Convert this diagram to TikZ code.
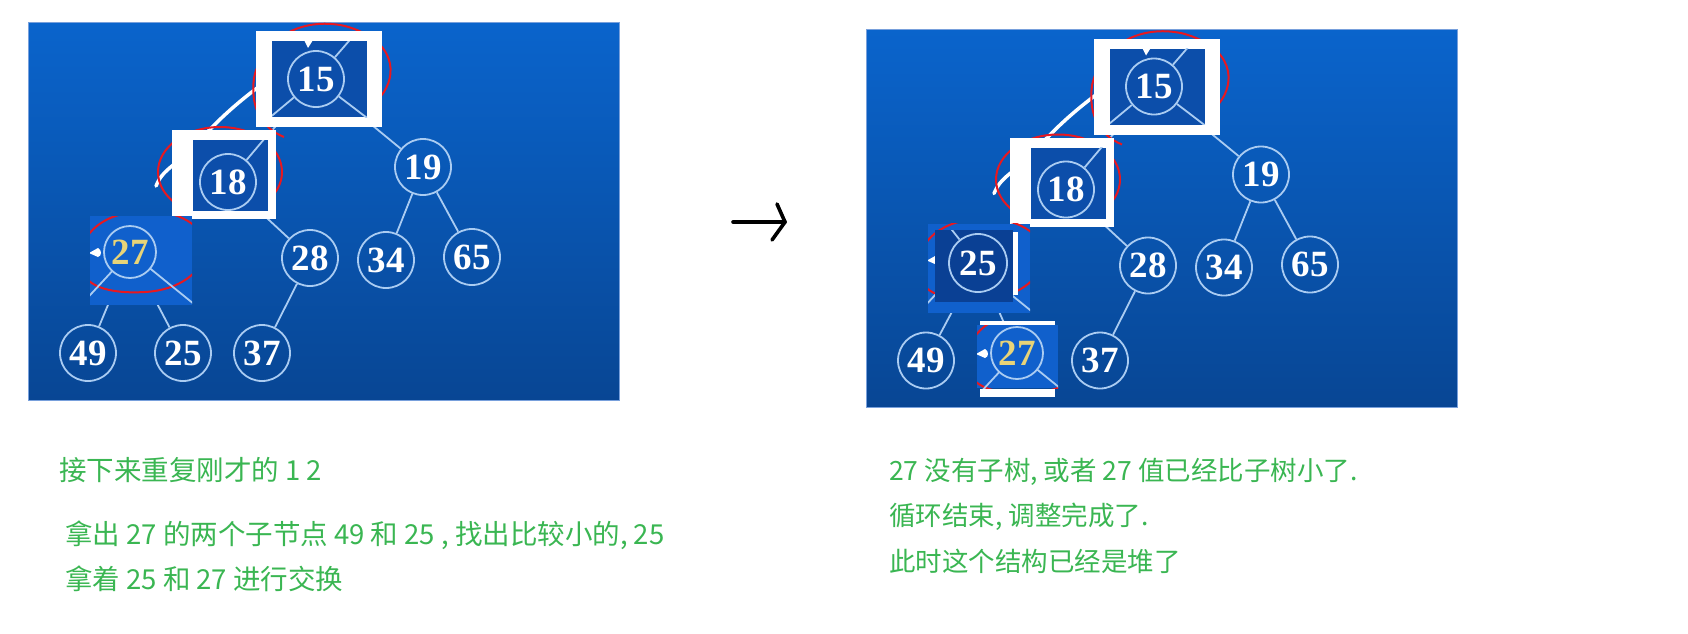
\documentclass[tikz,border=0pt]{standalone}
\usepackage{fontspec}
\setmainfont{Liberation Serif}
\newfontfamily\cjkfont{Noto Sans CJK SC}
\pgfdeclarelayer{paper}
\pgfdeclarelayer{bglayer}
\pgfdeclarelayer{edgelayer}
\pgfdeclarelayer{framelayer}
\pgfdeclarelayer{patchcontent}
\pgfdeclarelayer{croplayer}
\pgfsetlayers{paper,bglayer,edgelayer,framelayer,patchcontent,croplayer,main}
\definecolor{pantop}{RGB}{10,100,204}
\definecolor{panbot}{RGB}{8,70,148}
\definecolor{rimcol}{RGB}{120,160,220}
\definecolor{edgecol}{RGB}{170,204,242}
\definecolor{innerblue}{RGB}{12,78,170}
\definecolor{patchblue}{RGB}{16,96,204}
\definecolor{cropblue}{RGB}{10,64,148}
\definecolor{redline}{RGB}{232,24,32}
\definecolor{gold}{RGB}{232,212,120}
\definecolor{txtgreen}{RGB}{58,182,82}
\tikzset{
  hnode/.style={circle,draw=edgecol,line width=1.8pt,minimum size=56pt,inner sep=0pt,text=white,font={\bfseries\fontsize{37}{37}\selectfont}},
  sevennode/.style={hnode,minimum size=52pt,text=gold},
  hedge/.style={draw=edgecol,line width=1.8pt},
  redmark/.style={draw=redline,line width=2pt},
  swapline/.style={draw=white,line width=3.5pt,line cap=round},
  panelrim/.style={draw=rimcol,line width=0.8pt},
  note/.style={text=txtgreen,font={\cjkfont\fontsize{27.5}{31}\selectfont},anchor=west,inner sep=0pt},
  rnote/.style={note,font={\cjkfont\fontsize{26.5}{30}\selectfont}},
  bigarrow/.style={draw=black,line width=3.6pt,line cap=round,line join=round}
}
% marks of the pasted "27" patch, in coordinates centred on the circle
\newcommand\sevenmarks{%
  \draw[redmark] (-50,9) .. controls (-50,-20) and (-25,-40) .. (15,-41)
     .. controls (55,-42) and (80,-20) .. (75,0)
     .. controls (72,20) and (50,38) .. (15,40)
     .. controls (-20,42) and (-50,35) .. (-50,9);
  \draw[hedge] (-17.7,19) -- (-50,54);
  \draw[hedge] (20,16.4) -- (75,61);
  \fill[white] (-41,1) -- (-32,-4) .. controls (-28,-2) and (-28,4) .. (-32,5) -- cycle;
}
\newcommand\heapcommon[1]{%
  \begin{pgfonlayer}{bglayer}
    \shade[top color=pantop,bottom color=panbot] (28,22) rectangle (619,400);
    \draw[panelrim] (28,22) rectangle (619,400);
  \end{pgfonlayer}
  \node[hnode] (#1n15) at (316,79) {15};
  \node[hnode] (#1n18) at (228,182) {18};
  \node[hnode] (#1n19) at (423,167) {19};
  \node[hnode] (#1n28) at (310,258) {28};
  \node[hnode] (#1n34) at (386,260) {34};
  \node[hnode] (#1n65) at (472,257) {65};
  \node[hnode] (#1n49) at (88,353) {49};
  \node[hnode] (#1n37) at (262,353) {37};
  \begin{pgfonlayer}{edgelayer}
    \draw[hedge] (#1n15) -- (#1n18);
    \draw[hedge] (#1n15) -- (#1n19);
    \draw[hedge] (#1n18) -- (#1n28);
    \draw[hedge] (#1n19) -- (#1n34);
    \draw[hedge] (#1n19) -- (#1n65);
    \draw[hedge] (#1n28) -- (#1n37);
    \draw[swapline] (200,140) .. controls (220,118) and (240,100) .. (268,80);
    \draw[swapline] (156,186) .. controls (160,176) and (166,170) .. (180,160);
    \draw[redmark] (381,96) .. controls (398,75) and (396,40) .. (345,26)
       .. controls (300,16) and (262,40) .. (254,78)
       .. controls (250,108) and (262,128) .. (284,137);
    \draw[redmark] (220,172) ellipse [x radius=62, y radius=45];
  \end{pgfonlayer}
  \begin{pgfonlayer}{framelayer}
    \fill[white] (256,31) rectangle (382,127);
    \fill[innerblue] (272,41) rectangle (367,117);
    \fill[white] (172,130) rectangle (276,219);
    \fill[innerblue] (193,140) rectangle (268,211);
  \end{pgfonlayer}
  \coordinate (#1s15a) at (362,26);
  \coordinate (#1s15b) at (262,124);
  \coordinate (#1s15c) at (375,124);
  \coordinate (#1s18a) at (276,125);
  \begin{scope}
    \clip (272,41) rectangle (367,117);
    \draw[hedge] (#1n15) -- (#1s15a);
    \draw[hedge] (#1n15) -- (#1s15b);
    \draw[hedge] (#1n15) -- (#1s15c);
    \fill[white] (304,40) -- (313,40) -- (308,48) -- cycle;
  \end{scope}
  \begin{scope}
    \clip (193,140) rectangle (268,211);
    \draw[hedge] (#1n18) -- (#1s18a);
  \end{scope}
}
\begin{document}
\begin{tikzpicture}[x=1pt,y=-1pt]
\useasboundingbox (0,0) rectangle (1688,633);
\begin{pgfonlayer}{paper}
  \fill[white] (0,0) rectangle (1688,633);
\end{pgfonlayer}

% ---------------- left panel ----------------
\begin{scope}
  \heapcommon{L}
  \node[sevennode] (Ln27) at (130,252) {27};
  \node[hnode] (Ln25) at (183,353) {25};
  \begin{pgfonlayer}{edgelayer}
    \draw[hedge] (Ln18) -- (Ln27);
    \draw[hedge] (Ln27) -- (Ln49);
    \draw[hedge] (Ln27) -- (Ln25);
  \end{pgfonlayer}
  \begin{pgfonlayer}{framelayer}
    \fill[patchblue] (90,216) rectangle (192,305);
  \end{pgfonlayer}
  \begin{pgfonlayer}{patchcontent}
    \begin{scope}
      \clip (90,216) rectangle (192,305);
      \begin{scope}[shift={(130,252)}]\sevenmarks\end{scope}
    \end{scope}
  \end{pgfonlayer}
\end{scope}

% ---------------- right panel ----------------
\begin{scope}[shift={(838,7.5)}]
  \heapcommon{R}
  \node[hnode,minimum size=58pt] (Rn25) at (140,255.5) {25};
  \node[sevennode] (Rn27) at (179,345.5) {27};
  \begin{pgfonlayer}{edgelayer}
    \draw[hedge] (Rn18) -- (Rn25);
    \draw[hedge] (Rn25) -- (Rn49);
    \draw[hedge] (Rn25) -- (Rn27);
  \end{pgfonlayer}
  \begin{pgfonlayer}{framelayer}
    \fill[patchblue] (90,216) rectangle (192,305);
    \fill[white] (142,313.5) rectangle (217,318.5);
    \fill[white] (142,381.5) rectangle (217,389.5);
    \fill[patchblue] (139,317.5) rectangle (220,380.5);
  \end{pgfonlayer}
  \begin{pgfonlayer}{patchcontent}
    \begin{scope}
      \clip (90,216) rectangle (192,305);
      \begin{scope}[shift={(130,252)}]\sevenmarks\end{scope}
    \end{scope}
    \begin{scope}
      \clip (139,317.5) rectangle (220,380.5);
      \begin{scope}[shift={(179,345.5)}]\sevenmarks\end{scope}
    \end{scope}
  \end{pgfonlayer}
  \begin{pgfonlayer}{croplayer}
    \fill[cropblue] (97,222.5) rectangle (175,294.5);
  \end{pgfonlayer}
  \coordinate (Rs25) at (112,220);
  \begin{scope}
    \clip (97,222.5) rectangle (175,294.5);
    \draw[hedge] (Rn25) -- (Rs25);
  \end{scope}
  \fill[white] (175,224.5) rectangle (180,287.5);
\end{scope}

% ---------------- arrow between panels ----------------
\coordinate (arrS) at (733,222);
\coordinate (arrE) at (785,222);
\coordinate (arrT) at (777,204);
\coordinate (arrB) at (772,240);
\draw[bigarrow] (arrS) -- (arrE);
\draw[bigarrow] (arrT) -- (arrE) -- (arrB);

% ---------------- notes ----------------
\node[note] (t1) at (59,470) {接下来重复刚才的 1 2};
\node[note] (t2) at (65,535) {拿出 27 的两个子节点 49 和 25 , 找出比较小的, 25};
\node[note] (t3) at (65,579) {拿着 25 和 27 进行交换};
\node[rnote] (t4) at (889,472) {27 没有子树, 或者 27 值已经比子树小了.};
\node[rnote] (t5) at (889,517) {循环结束, 调整完成了.};
\node[rnote] (t6) at (889,561) {此时这个结构已经是堆了};
\end{tikzpicture}
\end{document}
